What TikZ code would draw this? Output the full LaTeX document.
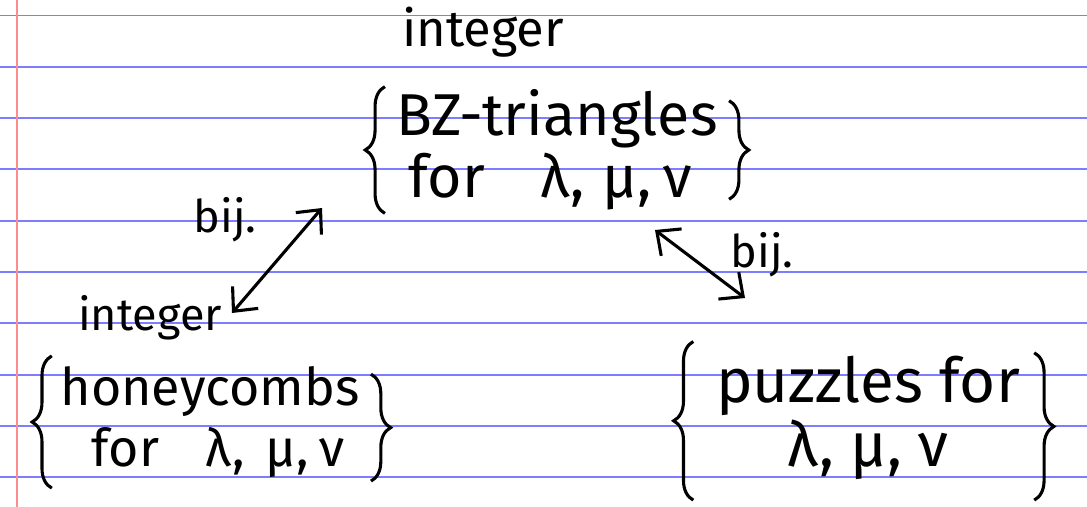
\documentclass[tikz,border=0pt]{standalone}
\usepackage{fontspec}
\setmainfont{Fira Sans}
\usetikzlibrary{arrows.meta,positioning,calc,decorations.pathreplacing}

\begin{document}
\begin{tikzpicture}[x=0.025cm, y=-0.025cm]
\definecolor{ruleblue}{RGB}{125,125,255}
\definecolor{marginred}{RGB}{255,140,140}
\tikzstyle{rule} = [draw=ruleblue, line width=1.3pt]
\tikzstyle{margin} = [draw=marginred, line width=1.2pt]
\tikzstyle{set} = [inner sep=2pt, font=\fontsize{37}{44}\selectfont]
\tikzstyle{small} = [inner sep=1pt, font=\fontsize{32}{36}\selectfont]
\tikzstyle{curly} = [draw, line width=2.2pt, decorate, decoration={brace, amplitude=14pt}]
\tikzstyle{bij} = [draw, line width=2.2pt, {Straight Barb[length=13pt,width=24pt]}-{Straight Barb[length=13pt,width=24pt]}]

\useasboundingbox (0,0) rectangle (1087,507);
\fill[white] (0,0) rectangle (1087,507);

% ruled paper
\foreach \k in {0,...,9}
  \path[rule] (0,{15.5+51.3*\k}) -- (1087,{15.5+51.3*\k});
\path[margin] (17,0) -- (17,507);

% the three sets
\node [set, align=left, font=\fontsize{42}{44}\selectfont] (bz) at (557,150) {BZ-triangles\\\hspace{0.2em}for\hspace{0.95em}λ,\hspace{0.3em}μ,\hspace{0.2em}ν};
\node [set, align=left] (hc) at (210,422) {honeycombs\\\hspace{0.6em}for\hspace{0.9em}λ,\hspace{0.4em}μ,\hspace{0.2em}ν};
\node [set, align=center, font=\fontsize{44}{46}\selectfont] (pz) at (868,418) {puzzles for\\λ, μ, ν\hspace{1.6em}};

\node [small, font=\fontsize{36}{40}\selectfont] (int1) at (483,32) {integer};
\node [small] (int2) at (150,318) {integer};

\path [curly] ([xshift=-6]bz.south west) -- ([xshift=-6]bz.north west);
\path [curly] ([xshift=6,yshift=-10]bz.north east) -- ([xshift=6,yshift=10]bz.south east);
\path [curly] ([xshift=-4,yshift=-5]hc.south west) -- ([xshift=-4,yshift=5]hc.north west);
\path [curly] ([xshift=6,yshift=-8]hc.north east) -- ([xshift=6]hc.south east);
\path [curly] ([xshift=-14,yshift=-12]pz.south west) -- ([xshift=-14,yshift=8]pz.north west);
\path [curly] ([xshift=8]pz.north east) -- ([xshift=8,yshift=-12]pz.south east);

% bijections
\coordinate (hcTip) at (232,313);
\coordinate (bzTipL) at (322,208);
\coordinate (bzTipR) at (655,230);
\coordinate (pzTip) at (745,298);

\path [bij] (hcTip) -- (bzTipL);
\path [bij] (bzTipR) -- (pzTip);

\node [small] (bij1) at (225,220) {bij.};
\node [small] (bij2) at (762,255) {bij.};

\end{tikzpicture}
\end{document}
